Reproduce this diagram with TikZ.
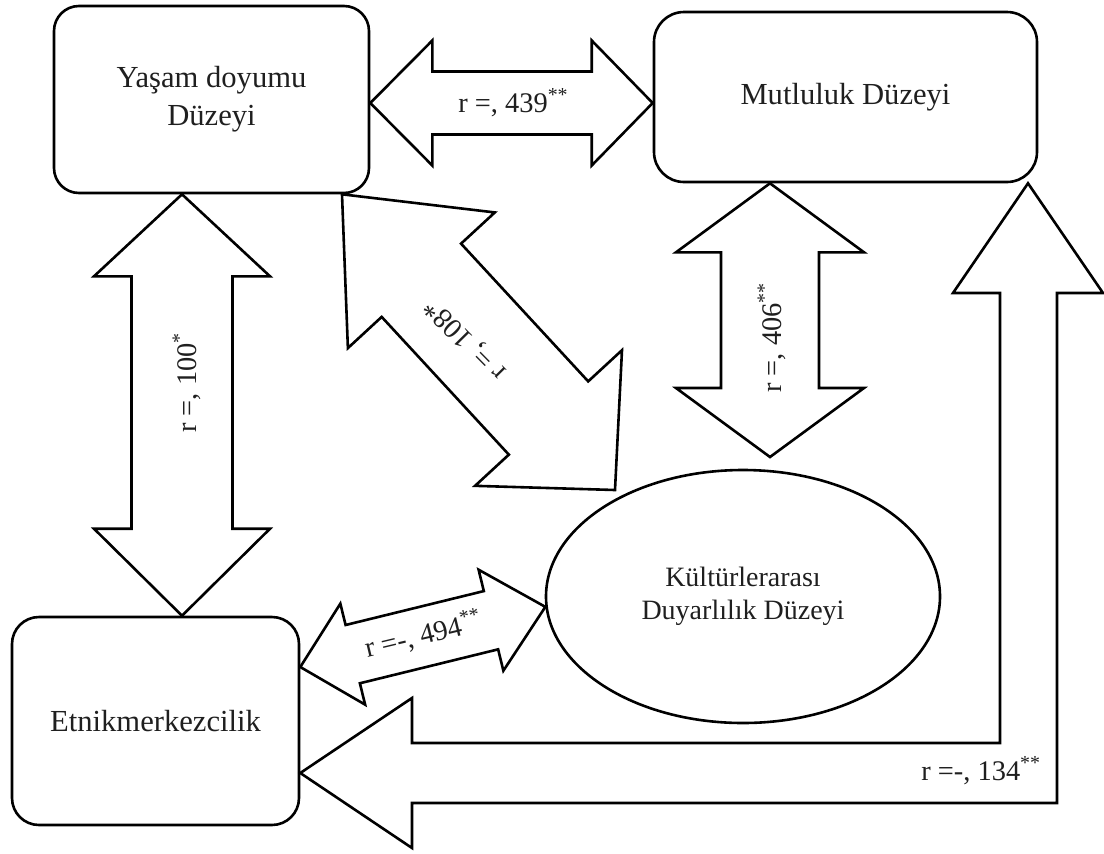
\documentclass[tikz,border=0pt]{standalone}
\usepackage{fontspec}
\setmainfont{Liberation Serif}
\usetikzlibrary{calc,shapes.geometric}
% #1 start, #2 end, #3 head length at start, #4 head length at end, #5 head half width, #6 shaft half width
\newcommand\dblblock[6]{%
\draw[blk] (#1) -- ($(#1)!#3!(#2)!#5!90:(#2)$) -- ($(#1)!#3!(#2)!#6!90:(#2)$)
 -- ($(#2)!#4!(#1)!#6!-90:(#1)$) -- ($(#2)!#4!(#1)!#5!-90:(#1)$) -- (#2)
 -- ($(#2)!#4!(#1)!#5!90:(#1)$) -- ($(#2)!#4!(#1)!#6!90:(#1)$)
 -- ($(#1)!#3!(#2)!#6!-90:(#2)$) -- ($(#1)!#3!(#2)!#5!-90:(#2)$) -- cycle;}
\begin{document}
\begin{tikzpicture}[x=0.5pt,y=-0.5pt,
 box/.style={draw, line width=1.3pt, rounded corners=#1, align=center, inner sep=0pt, text=black!88, font=\fontsize{15.3}{19}\selectfont},
 blk/.style={draw, line width=1.3pt, line join=miter, fill=white},
 lab/.style={inner sep=0pt, text=black!88, font=\fontsize{14.2}{17}\selectfont}]
\useasboundingbox (0,0) rectangle (1104,853);
% nodes
\node[box=12.5pt, minimum width=157.5pt, minimum height=93.5pt] (yasam) at (211.5,99.5) {Yaşam doyumu\\Düzeyi};
\node[box=15pt, minimum width=191.5pt, minimum height=85pt] (mutlu) at (845.5,97) {Mutluluk Düzeyi};
\node[box=13.5pt, minimum width=143.5pt, minimum height=104pt] (etnik) at (155.5,721) {Etnikmerkezcilik};
\node[ellipse, draw, line width=1.3pt, minimum width=197pt, minimum height=126.5pt, inner sep=0pt, align=center, text=black!88, font=\fontsize{14}{16.5}\selectfont] (kult) at (743,596.5) {Kültürlerarası\\Duyarlılık Düzeyi};
% arrow end points
\coordinate (a1) at (yasam.east |- 0,103);
\coordinate (a2) at (mutlu.west |- 0,103);
\coordinate (b1) at (yasam.south -| 182,0);
\coordinate (b2) at (etnik.north -| 182,0);
\coordinate (c1) at (mutlu.south -| 770,0);
\coordinate (c2) at (770,457);
\coordinate (d1) at (yasam.south -| 342,0);
\coordinate (d2) at (615,490);
\coordinate (e1) at (etnik.east |- 0,667);
\coordinate (e2) at (kult.183.4);
\coordinate (f1) at (etnik.east |- 0,773);
\coordinate (f2) at (mutlu.south -| 1028,0);
% block arrows
\dblblock{a1}{a2}{31pt}{30.5pt}{31.25pt}{15.75pt}
\dblblock{b1}{b2}{41pt}{43.5pt}{44pt}{25.25pt}
\dblblock{c1}{c2}{34.5pt}{34.5pt}{47pt}{24.5pt}
\dblblock{d1}{d2}{58.5pt}{49pt}{50pt}{27pt}
\dblblock{e1}{e2}{27pt}{28pt}{26pt}{15pt}
\draw[blk] (f1) -- (412,698) -- (412,743) -- (1000,743) -- (1000,293) -- (953,293) -- (f2)
 -- (1103,293) -- (1057,293) -- (1057,803) -- (412,803) -- (412,848) -- cycle;
% labels
\node[lab, anchor=base west] (l1) at (458,112) {r =, 439\textsuperscript{**}};
\node[lab, anchor=base west, rotate=90] (l2) at (196,433) {r =, 100\textsuperscript{*}};
\node[lab, anchor=base west, rotate=90] (l3) at (781,393) {r =, 406\textsuperscript{**}};
\node[lab, rotate=134.6] (l4) at (466,339) {r =, 108*};
\node[lab, anchor=base west, rotate=13.4] (l5) at (367,658) {r =-, 494\textsuperscript{**}};
\node[lab, anchor=base west] (l6) at (921,780) {r =-, 134\textsuperscript{**}};
\end{tikzpicture}
\end{document}
